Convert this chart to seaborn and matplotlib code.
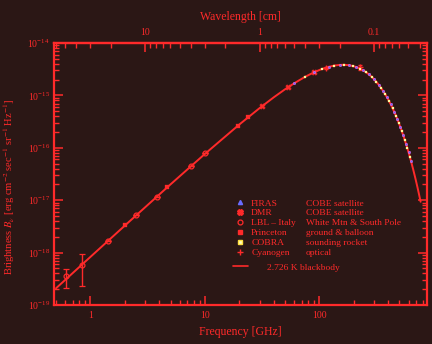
import numpy as np
import matplotlib
matplotlib.use("Agg")  # headless rendering
import matplotlib.pyplot as plt
from matplotlib.lines import Line2D
from matplotlib.ticker import LogLocator, FuncFormatter, LogFormatterSciNotation, NullFormatter
import seaborn as sns

# 2.726 K blackbody curve (GHz, erg cm^-2 s^-1 sr^-1 Hz^-1)
curve_freq = [0.5, 1, 2, 5, 10, 20, 30, 40, 50, 60, 75, 90, 105, 120, 135, 150,
              165, 180, 195, 210, 225, 240, 255, 270, 285, 300, 330, 360, 390,
              420, 450, 480, 510, 540, 570, 600, 630, 660, 690, 720, 750, 765]
curve_b = [2.085e-19, 8.301e-19, 3.292e-18, 2.003e-17, 7.660e-17, 2.795e-16,
           5.721e-16, 9.231e-16, 1.306e-15, 1.698e-15, 2.266e-15, 2.773e-15,
           3.190e-15, 3.505e-15, 3.713e-15, 3.821e-15, 3.837e-15, 3.774e-15,
           3.648e-15, 3.472e-15, 3.260e-15, 3.025e-15, 2.776e-15, 2.524e-15,
           2.275e-15, 2.035e-15, 1.594e-15, 1.218e-15, 9.129e-16, 6.720e-16,
           4.873e-16, 3.487e-16, 2.466e-16, 1.726e-16, 1.197e-16, 8.234e-17,
           5.621e-17, 3.811e-17, 2.568e-17, 1.720e-17, 1.147e-17, 9.345e-18]

firas_freq = [60, 90, 120, 150, 180, 210, 240, 270, 300, 330, 360, 390, 420,
              450, 480, 510, 540, 570, 600, 630]
firas_b = [1.698e-15, 2.773e-15, 3.505e-15, 3.821e-15, 3.774e-15, 3.472e-15,
           3.025e-15, 2.524e-15, 2.035e-15, 1.594e-15, 1.218e-15, 9.129e-16,
           6.720e-16, 4.873e-16, 3.487e-16, 2.466e-16, 1.726e-16, 1.197e-16,
           8.234e-17, 5.621e-17]

cobra_freq = [75, 105, 135, 165, 195, 225, 255, 285, 315, 345, 375, 405, 435,
              465, 495, 525, 555, 585, 615]
cobra_b = [2.266e-15, 3.190e-15, 3.713e-15, 3.837e-15, 3.648e-15, 3.260e-15,
           2.776e-15, 2.275e-15, 1.806e-15, 1.397e-15, 1.057e-15, 7.848e-16,
           5.733e-16, 4.129e-16, 2.936e-16, 2.066e-16, 1.439e-16, 9.938e-17,
           6.809e-17]

dmr_freq = [31.5, 53, 90]
dmr_b = [6.218e-16, 1.423e-15, 2.773e-15]

lbl_freq = [0.61, 0.84, 1.43, 2.5, 3.8, 7.5, 10.1]
lbl_b = [3.5e-19, 5.9e-19, 1.69e-18, 5.12e-18, 1.169e-17, 4.40e-17, 7.81e-17]
lbl_err = [1.4e-19, 3.6e-19, 0, 0, 0, 0, 0]

princeton_freq = [2.0, 4.7, 19.4, 24.0]
princeton_b = [3.29e-18, 1.773e-17, 2.644e-16, 3.877e-16]

cyan_freq = [113.6, 227]
cyan_b = [3.383e-15, 3.45e-15]
cyan_err = [0.15e-15, 0.35e-15]

names = ["FIRAS", "DMR", "LBL \u2013 Italy", "Princeton", "COBRA", "Cyanogen"]
descs = ["COBE satellite", "COBE satellite", "White Mtn & South Pole",
         "ground & balloon", "sounding rocket", "optical"]
bb_label = "2.726 K blackbody"

BG = "#2b1715"
RED = "#ff2a2a"
BLUE = "#6a6cff"
W, H = 432, 344

sns.set_theme(style="ticks", rc={"figure.facecolor": BG, "axes.facecolor": BG})
plt.rcParams["font.family"] = ["Liberation Serif", "DejaVu Serif"]
plt.rcParams["mathtext.fontset"] = "stix"

fig = plt.figure(figsize=(W / 100, H / 100), dpi=100, facecolor=BG)
ax = fig.add_axes([54 / W, 1 - 305 / H, (427 - 54) / W, (305 - 43) / H])
ax.set_facecolor(BG)
ax.set_xscale("log")
ax.set_yscale("log")

sns.lineplot(x=curve_freq, y=curve_b, ax=ax, color=RED, lw=1.4,
             estimator=None, sort=False, zorder=2)

ax.errorbar(lbl_freq, lbl_b, yerr=lbl_err, fmt="o", ms=3.5, mfc="none",
            mec=RED, mew=0.9, ecolor=RED, elinewidth=1, capsize=2.5, zorder=3)
sns.scatterplot(x=princeton_freq, y=princeton_b, ax=ax, marker="s", s=7,
                color=RED, edgecolor=RED, zorder=3)
sns.scatterplot(x=dmr_freq, y=dmr_b, ax=ax, marker="X", s=16,
                color=RED, edgecolor=RED, zorder=3)
ax.errorbar(cyan_freq, cyan_b, yerr=cyan_err, fmt="+", ms=5, mew=1,
            color=RED, elinewidth=1, capsize=1.5, zorder=3)
sns.scatterplot(x=firas_freq, y=firas_b, ax=ax, marker="o", s=3,
                color=BLUE, edgecolor="#ff70ff", linewidth=0.3, zorder=4)
sns.scatterplot(x=cobra_freq, y=cobra_b, ax=ax, marker="s", s=3,
                color="#ffffc0", edgecolor="#ffe040", linewidth=0.2, zorder=4)

ax.set_xlim(0.48, 870)
ax.set_ylim(1e-19, 1e-14)

# axes styling
for sp in ax.spines.values():
    sp.set_color(RED)
    sp.set_linewidth(1.6)
ax.xaxis.set_minor_locator(LogLocator(base=10, subs=np.arange(2, 10), numticks=12))
ax.yaxis.set_major_locator(LogLocator(base=10, numticks=10))
ax.yaxis.set_minor_locator(LogLocator(base=10, subs=np.arange(2, 10), numticks=12))
ax.tick_params(which="both", direction="in", colors=RED, bottom=True, left=True,
               top=False, right=True, labelsize=7)
ax.tick_params(which="major", length=6.5, width=1.1)
ax.tick_params(which="minor", length=3.5, width=1.0)
ax.tick_params(axis="x", pad=4)
ax.tick_params(axis="y", pad=3)
ax.xaxis.set_major_formatter(FuncFormatter(lambda v, p: f"{v:g}"))
ax.xaxis.set_minor_formatter(NullFormatter())
ax.yaxis.set_major_formatter(LogFormatterSciNotation())
ax.yaxis.set_minor_formatter(NullFormatter())
ax.set_xlabel("Frequency [GHz]", color=RED, fontsize=8.5, labelpad=5)
ax.set_ylabel(r"Brightness $B_\nu$ [erg cm$^{-2}$ sec$^{-1}$ sr$^{-1}$ Hz$^{-1}$]",
              color=RED, fontsize=7.6)
ax.yaxis.set_label_coords(-0.098, 0.45)


def nu_to_lam(x):
    x = np.asarray(x, dtype=float)
    with np.errstate(divide="ignore"):
        return 29.979 / x


sec = ax.secondary_xaxis("top", functions=(nu_to_lam, nu_to_lam))
sec.spines["top"].set_color(RED)
sec.spines["top"].set_linewidth(1.6)
sec.xaxis.set_minor_locator(LogLocator(base=10, subs=np.arange(2, 10), numticks=12))
sec.tick_params(which="both", direction="in", colors=RED, labelsize=7, pad=4)
sec.tick_params(which="major", length=6.5, width=1.1)
sec.tick_params(which="minor", length=3.5, width=1.0)
sec.xaxis.set_major_formatter(FuncFormatter(lambda v, p: f"{v:g}"))
sec.xaxis.set_minor_formatter(NullFormatter())
sec.set_xlabel("Wavelength [cm]", color=RED, fontsize=8.5, labelpad=6)

# legend: symbols + names, descriptions, blackbody line
handles = [
    Line2D([], [], ls="none", marker="^", ms=3, color=BLUE),
    Line2D([], [], ls="none", marker="X", ms=4, color=RED),
    Line2D([], [], ls="none", marker="o", ms=3.5, mfc="none", mec=RED, mew=0.9),
    Line2D([], [], ls="none", marker="s", ms=2.5, color=RED),
    Line2D([], [], ls="none", marker="s", ms=3, mfc="#ffffc0", mec="#ffe040"),
    Line2D([], [], ls="none", marker="+", ms=5, mew=1, color=RED),
]
leg_kw = dict(frameon=False, fontsize=6.8, labelcolor=RED, loc="upper left",
              borderpad=0, borderaxespad=0, labelspacing=0.13,
              bbox_transform=fig.transFigure)
leg1 = ax.legend(handles=handles, labels=names, handlelength=0.6,
                 handletextpad=0.9, bbox_to_anchor=(237 / W, 1 - 199 / H), **leg_kw)
ax.add_artist(leg1)
blank = [Line2D([], [], ls="none") for _ in descs]
leg2 = ax.legend(handles=blank, labels=descs, handlelength=0, handletextpad=0,
                 bbox_to_anchor=(306 / W, 1 - 199 / H), **leg_kw)
ax.add_artist(leg2)
ax.legend(handles=[Line2D([], [], color=RED, lw=1.2)], labels=[bb_label],
          handlelength=1.6, handletextpad=2.0,
          bbox_to_anchor=(233 / W, 1 - 263 / H), **leg_kw)

fig.savefig("out.png", dpi=100, facecolor=BG)
